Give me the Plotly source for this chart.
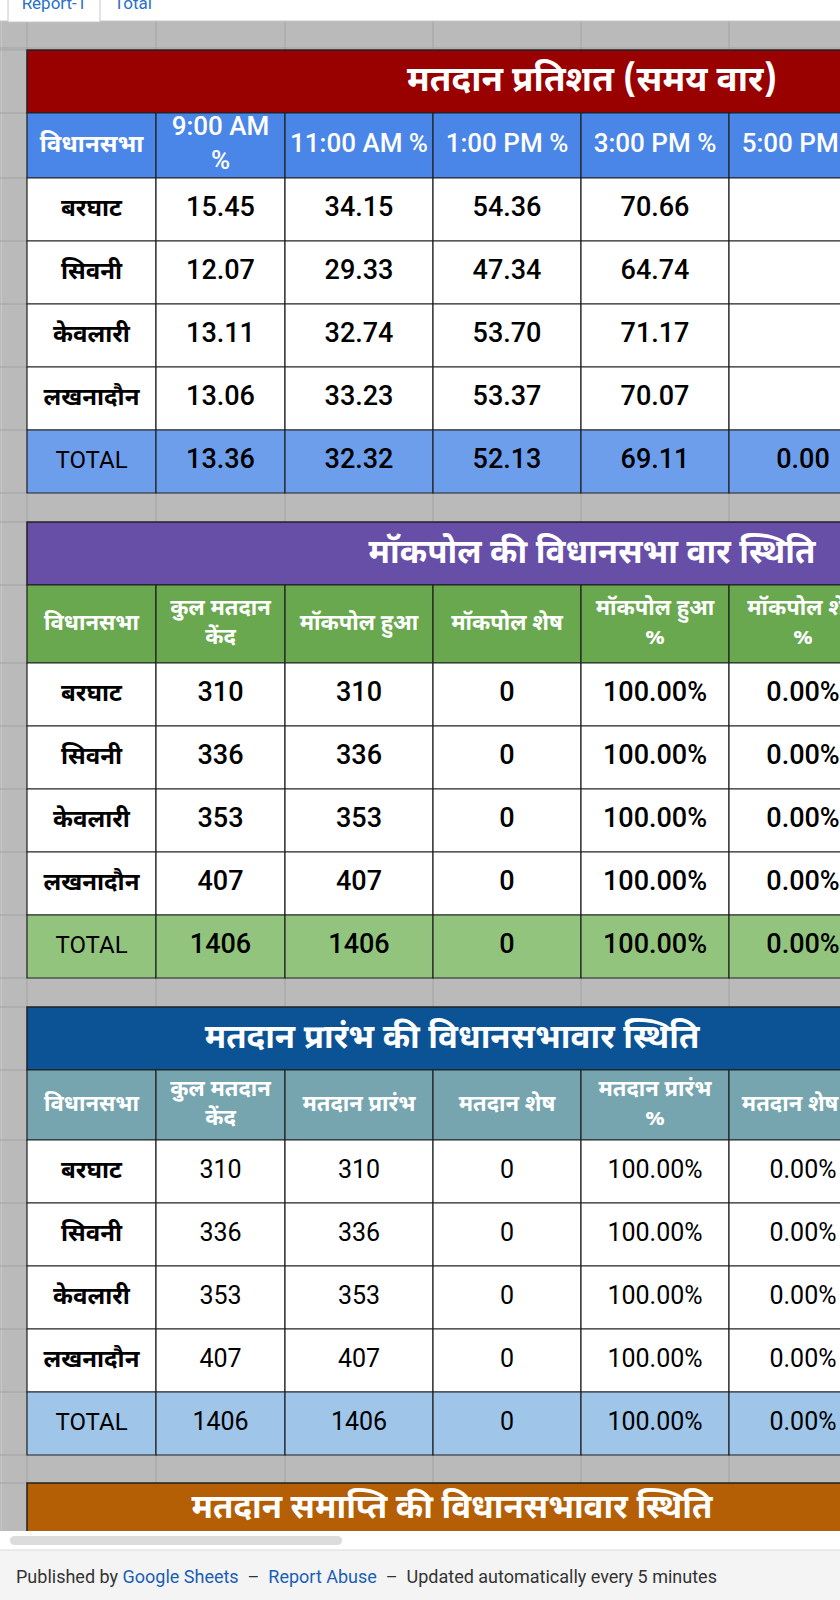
import plotly.graph_objects as go

# ── Sheet contents ───────────────────────────────────────────────────────────
constituencies = ["बरघाट", "सिवनी", "केवलारी", "लखनादौन"]
total_label = "TOTAL"

# Table 1: voting percentage by time
turnout_title = "मतदान प्रतिशत (समय वार)"
turnout_headers = ["विधानसभा", "9:00 AM<br>%", "11:00 AM %", "1:00 PM %", "3:00 PM %", "5:00 PM %"]
turnout_9am = [15.45, 12.07, 13.11, 13.06]
turnout_11am = [34.15, 29.33, 32.74, 33.23]
turnout_1pm = [54.36, 47.34, 53.70, 53.37]
turnout_3pm = [70.66, 64.74, 71.17, 70.07]
turnout_5pm = [None, None, None, None]
turnout_total = [13.36, 32.32, 52.13, 69.11, 0.00]

# Table 2: mock poll status
mockpoll_title = "मॉकपोल की विधानसभा वार स्थिति"
mockpoll_headers = ["विधानसभा", "कुल मतदान<br>केंद", "मॉकपोल हुआ", "मॉकपोल शेष",
                    "मॉकपोल हुआ<br>%", "मॉकपोल शेष<br>%"]
polling_centres = [310, 336, 353, 407]
mockpoll_done = [310, 336, 353, 407]
mockpoll_left = [0, 0, 0, 0]
mockpoll_done_pct = ["100.00%", "100.00%", "100.00%", "100.00%"]
mockpoll_left_pct = ["0.00%", "0.00%", "0.00%", "0.00%"]
mockpoll_total = ["1406", "1406", "0", "100.00%", "0.00%"]

# Table 3: poll start status
pollstart_title = "मतदान प्रारंभ की विधानसभावार स्थिति"
pollstart_headers = ["विधानसभा", "कुल मतदान<br>केंद", "मतदान प्रारंभ", "मतदान शेष",
                     "मतदान प्रारंभ<br>%", "मतदान शेष %"]
poll_started = [310, 336, 353, 407]
poll_left = [0, 0, 0, 0]
poll_started_pct = ["100.00%", "100.00%", "100.00%", "100.00%"]
poll_left_pct = ["0.00%", "0.00%", "0.00%", "0.00%"]
pollstart_total = ["1406", "1406", "0", "100.00%", "0.00%"]

# Table 4 (only its title is in view)
pollend_title = "मतदान समाप्ति की विधानसभावार स्थिति"

tab_names = ["Report-1", "Total"]


# ── Layout constants ─────────────────────────────────────────────────────────
W, H = 840, 1600
COL_X = [27, 156, 285, 433, 581, 729, 877]
ROW_H = 63
GRID_TOP, GRID_BOTTOM = 21, 1531
GRAY = "#bababa"
GRAY_LINE = "#a3a3a3"
CELL_LINE = "#222222"
DEVA = "Noto Sans Devanagari, Noto Sans, sans-serif"
LATIN = "Roboto, Arial, sans-serif"

fig = go.Figure()
shapes = []


def rect(x0, y0, x1, y1, fill, line=None, lw=0):
    shapes.append(dict(type="rect", xref="x", yref="y", x0=x0, y0=y0, x1=x1, y1=y1,
                       fillcolor=fill, line=dict(color=line or fill, width=lw), layer="below"))


def hline(x0, x1, y, color, lw=1):
    shapes.append(dict(type="line", xref="x", yref="y", x0=x0, x1=x1, y0=y, y1=y,
                       line=dict(color=color, width=lw), layer="below"))


def vline(x, y0, y1, color, lw=1):
    shapes.append(dict(type="line", xref="x", yref="y", x0=x, x1=x, y0=y0, y1=y1,
                       line=dict(color=color, width=lw), layer="below"))


def add_text(xs, ys, labels, size, color="#000000", family=LATIN, weight="normal"):
    fig.add_trace(go.Scatter(
        x=xs, y=ys, mode="text", text=labels, textposition="middle center",
        textfont=dict(size=size, color=color, family=family, weight=weight),
        hoverinfo="skip", showlegend=False, cliponaxis=True,
    ))


def is_latin(s):
    return all(ord(c) < 128 for c in s)


def fmt(v):
    if v is None:
        return ""
    if isinstance(v, float):
        return f"{v:.2f}"
    return str(v)


centres = [(COL_X[j] + COL_X[j + 1]) / 2 for j in range(6)]


def draw_table(top, title, title_fill, title_x, title_size, header_h, header_fill, headers,
               columns, total_row, total_fill, value_size, value_weight,
               hdr_deva=22, hdr_latin=26):
    # merged title band
    rect(COL_X[0], top, W + 40, top + ROW_H, title_fill, CELL_LINE, 1.5)
    add_text([title_x], [top + ROW_H / 2 + 1], [title], title_size, "white", DEVA, "bold")

    # header row
    y0 = top + ROW_H
    for j in range(6):
        rect(COL_X[j], y0, COL_X[j + 1], y0 + header_h, header_fill, CELL_LINE, 1.2)
    yc = y0 + header_h / 2
    lat = [j for j, h in enumerate(headers) if is_latin(h)]
    dev = [j for j, h in enumerate(headers) if not is_latin(h)]
    if lat:
        add_text([centres[j] for j in lat], [yc] * len(lat), [headers[j] for j in lat],
                 hdr_latin, "white", LATIN, 500)
    if dev:
        add_text([centres[j] for j in dev], [yc] * len(dev), [headers[j] for j in dev],
                 hdr_deva, "white", DEVA, "bold")

    # body rows
    y = y0 + header_h
    row_y = []
    for i in range(len(constituencies)):
        for j in range(6):
            rect(COL_X[j], y, COL_X[j + 1], y + ROW_H, "white", CELL_LINE, 1.2)
        row_y.append(y + ROW_H / 2)
        y += ROW_H
    add_text([centres[0]] * 4, row_y, constituencies, 24, "#000000", DEVA, "bold")
    for j, col in enumerate(columns):
        add_text([centres[j + 1]] * 4, row_y, [fmt(v) for v in col],
                 value_size, "#000000", LATIN, value_weight)

    # total row
    for j in range(6):
        rect(COL_X[j], y, COL_X[j + 1], y + ROW_H, total_fill, CELL_LINE, 1.2)
    ty = y + ROW_H / 2
    add_text([centres[0]], [ty], [total_label], 24, "#000000", LATIN)
    add_text(centres[1:], [ty] * 5, [fmt(v) for v in total_row],
             value_size, "#000000", LATIN, value_weight)
    return y + ROW_H


# ── Spreadsheet grid background ──────────────────────────────────────────────
rect(0, GRID_TOP, W, GRID_BOTTOM, GRAY)
for x in COL_X:
    vline(x, GRID_TOP, GRID_BOTTOM, GRAY_LINE)
vline(1.5, GRID_TOP, GRID_BOTTOM, "#c8c8c8")
hline(0, W, 48, GRAY_LINE)
row_edges = [50, 113, 178, 241, 304, 367, 430, 493, 522, 585, 663, 726, 789, 852,
             915, 978, 1007, 1070, 1140, 1203, 1266, 1329, 1392, 1455, 1483]
for ry in row_edges:
    hline(0, COL_X[0], ry, GRAY_LINE)

# ── Tables ───────────────────────────────────────────────────────────────────
draw_table(50, turnout_title, "#990000", 592, 35, 65, "#4a86e8", turnout_headers,
           [turnout_9am, turnout_11am, turnout_1pm, turnout_3pm, turnout_5pm],
           turnout_total, "#6d9eeb", 27, 500, hdr_deva=24, hdr_latin=26)

draw_table(522, mockpoll_title, "#674ea7", 592, 33, 78, "#6aa84f", mockpoll_headers,
           [polling_centres, mockpoll_done, mockpoll_left, mockpoll_done_pct, mockpoll_left_pct],
           mockpoll_total, "#93c47d", 27, 500, hdr_deva=22)

draw_table(1007, pollstart_title, "#0b5394", 452, 33, 70, "#76a5af", pollstart_headers,
           [polling_centres, poll_started, poll_left, poll_started_pct, poll_left_pct],
           pollstart_total, "#9fc5e8", 25, "normal", hdr_deva=22)

# last table: only the title band is visible
rect(COL_X[0], 1483, W + 40, 1546, "#b45f06", CELL_LINE, 1.5)
add_text([452], [1510], [pollend_title], 33, "white", DEVA, "bold")

# ── Sheet tabs (top) ─────────────────────────────────────────────────────────
rect(0, 0, W, GRID_TOP, "white")
hline(0, W, GRID_TOP, "#c6c6c6")
rect(8, -10, 100, GRID_TOP + 1, "white", "#c6c6c6", 1)
add_text([54, 133], [5, 5], tab_names, 17, "#2a6fc9", LATIN)

# ── Horizontal scrollbar + footer ────────────────────────────────────────────
rect(0, GRID_BOTTOM, W, 1550, "white")
shapes.append(dict(type="path", xref="x", yref="y", layer="below",
                   path="M 15 1536 L 337 1536 Q 342 1536 342 1540.5 Q 342 1545 337 1545 "
                        "L 15 1545 Q 10 1545 10 1540.5 Q 10 1536 15 1536 Z",
                   fillcolor="#dcdcdc", line=dict(width=0)))
rect(0, 1550, W, H, "#f4f4f4")
hline(0, W, 1550, "#d9d9d9")

fig.add_annotation(
    x=14, y=1576, xref="x", yref="y", xanchor="left", yanchor="middle", showarrow=False,
    text=("Published by <span style='color:#1a5fb4'>Google Sheets</span>"
          " &nbsp;–&nbsp; <span style='color:#1a5fb4'>Report Abuse</span>"
          " &nbsp;–&nbsp; Updated automatically every 5 minutes"),
    font=dict(size=18, color="#333333", family=LATIN),
)

fig.update_layout(
    width=W, height=H,
    margin=dict(l=0, r=0, t=0, b=0),
    paper_bgcolor="white", plot_bgcolor="white",
    xaxis=dict(range=[0, W], visible=False, fixedrange=True),
    yaxis=dict(range=[H, 0], visible=False, fixedrange=True),
    shapes=shapes,
    showlegend=False,
)

fig.write_html("out.html", config={"displayModeBar": False},
               post_script="document.body.style.margin='0';document.body.style.overflow='hidden';")
